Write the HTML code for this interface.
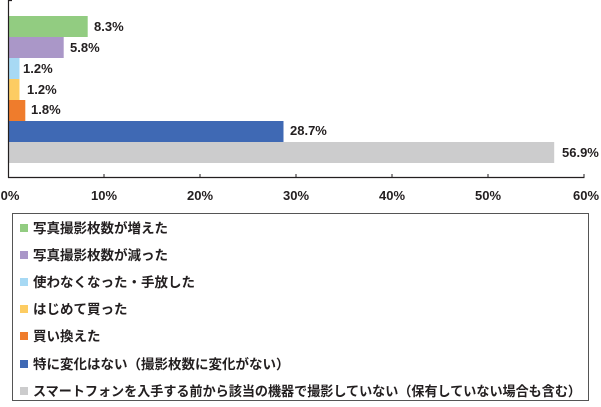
<!DOCTYPE html>
<html><head><meta charset="utf-8"><style>
body{margin:0;background:#fff;width:601px;height:402px;overflow:hidden}
svg text{font-family:"Liberation Sans","Noto Sans CJK JP",sans-serif;font-weight:bold;fill:#231f20}
</style></head><body>
<svg width="601" height="402" xmlns="http://www.w3.org/2000/svg">
<g>
<rect x="8" y="16" width="79.7" height="21" fill="#92cc81"/>
<rect x="8" y="37" width="55.7" height="21" fill="#aa97c8"/>
<rect x="8" y="58" width="11.5" height="21" fill="#a7d9f4"/>
<rect x="8" y="79" width="11.5" height="21" fill="#fdcc62"/>
<rect x="8" y="100" width="17.3" height="21" fill="#ef7c2c"/>
<rect x="8" y="121" width="275.5" height="21" fill="#3f69b4"/>
<rect x="8" y="142" width="546.2" height="21" fill="#cccccd"/>
</g>
<g font-size="13">
<text x="94" y="31">8.3%</text>
<text x="70" y="52">5.8%</text>
<text x="23" y="73">1.2%</text>
<text x="27" y="94">1.2%</text>
<text x="31" y="114">1.8%</text>
<text x="290" y="135">28.7%</text>
<text x="562" y="157">56.9%</text>
</g>
<path d="M8.5 0V178M8 177.5H584.5M8 0.5H12" stroke="#231f20" stroke-width="1.2" fill="none"/>
<g stroke="#231f20" stroke-width="1">
<path d="M104 174V178M200 174V178M296 174V178M392 174V178M488 174V178M584 174V178"/>
</g>
<g font-size="13" text-anchor="middle">
<text x="10" y="200">0%</text><text x="104" y="200">10%</text><text x="200" y="200">20%</text>
<text x="296" y="200">30%</text><text x="392" y="200">40%</text><text x="488" y="200">50%</text><text x="586" y="200">60%</text>
</g>
<rect x="12.5" y="213.5" width="576" height="187" fill="none" stroke="#555" stroke-width="1"/>
<g font-size="13.5">
<rect x="20" y="224" width="8" height="8" fill="#92cc81"/><text x="33" y="233">写真撮影枚数が増えた</text>
<rect x="20" y="251" width="8" height="8" fill="#aa97c8"/><text x="33" y="260">写真撮影枚数が減った</text>
<rect x="20" y="278" width="8" height="8" fill="#a7d9f4"/><text x="33" y="287">使わなくなった・手放した</text>
<rect x="20" y="305" width="8" height="8" fill="#fdcc62"/><text x="33" y="314">はじめて買った</text>
<rect x="20" y="332" width="8" height="8" fill="#ef7c2c"/><text x="33" y="341">買い換えた</text>
<rect x="20" y="360" width="8" height="8" fill="#3f69b4"/><text x="33" y="369">特に変化はない（撮影枚数に変化がない）</text>
<rect x="20" y="387" width="8" height="8" fill="#cccccd"/><text x="33" y="396" textLength="548" lengthAdjust="spacingAndGlyphs">スマートフォンを入手する前から該当の機器で撮影していない（保有していない場合も含む）</text>
</g>
</svg>
</body></html>
